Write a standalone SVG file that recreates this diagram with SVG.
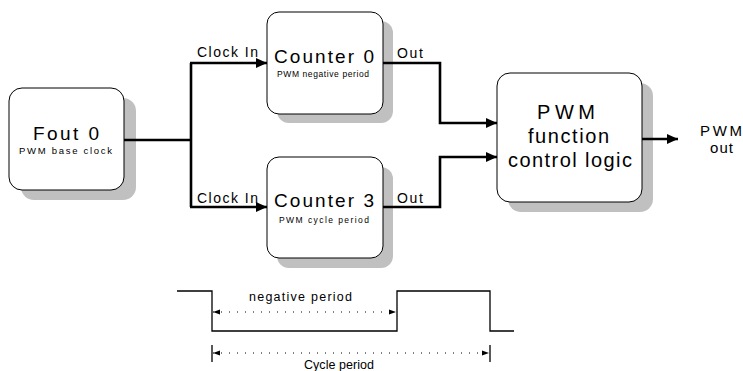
<svg xmlns="http://www.w3.org/2000/svg" width="743" height="371" viewBox="0 0 743 371">
<defs>
<style>
.box{fill:#fff;stroke:#000;stroke-width:1}
.sh{fill:#c0c0c0;stroke:none}
.t{font-family:"Liberation Sans",Arial,sans-serif;fill:#000}
.big{font-size:19px}
.mid{font-size:14px}
.sm{font-size:8.5px}
.wire{fill:none;stroke:#000;stroke-width:2.6;stroke-linejoin:miter}
.wave{fill:none;stroke:#000;stroke-width:1.3}
.dot{fill:none;stroke:#000;stroke-width:1;stroke-dasharray:1 7}
</style>
<marker id="arr" markerUnits="userSpaceOnUse" markerWidth="12" markerHeight="12" viewBox="0 0 12 12" refX="11" refY="6" orient="auto">
<path d="M0,1 L11,6 L0,11 Z" fill="#000"/>
</marker>
<marker id="sarr" markerUnits="userSpaceOnUse" markerWidth="8" markerHeight="6" viewBox="0 0 8 6" refX="7" refY="3" orient="auto-start-reverse">
<path d="M0,0.5 L7,3 L0,5.5 Z" fill="#000"/>
</marker>
</defs>
<rect width="743" height="371" fill="#fff"/>

<g id="fout0">
<rect class="sh" x="21" y="98" width="115" height="102" rx="13"/>
<rect class="box" x="9" y="88" width="115" height="102" rx="13"/>
<text class="t big" x="33" y="140" textLength="66" lengthAdjust="spacing">Fout 0</text>
<text class="t" font-size="9.5" x="19" y="154" textLength="93" lengthAdjust="spacing">PWM base clock</text>
</g>

<g id="counter0">
<rect class="sh" x="277" y="21" width="116" height="102" rx="12"/>
<rect class="box" x="267" y="12" width="116" height="102" rx="12"/>
<text class="t big" x="274" y="63" textLength="100" lengthAdjust="spacing">Counter 0</text>
<text class="t sm" x="277" y="77" textLength="92" lengthAdjust="spacing">PWM negative period</text>
</g>

<g id="counter3">
<rect class="sh" x="277" y="167" width="116" height="101" rx="12"/>
<rect class="box" x="267" y="157" width="116" height="101" rx="12"/>
<text class="t big" x="274" y="207" textLength="100" lengthAdjust="spacing">Counter 3</text>
<text class="t sm" x="279" y="223" textLength="90" lengthAdjust="spacing">PWM cycle period</text>
</g>

<g id="pwmlogic">
<rect class="sh" x="508" y="83" width="145" height="129" rx="13"/>
<rect class="box" x="497" y="73" width="145" height="129" rx="13"/>
<text class="t" font-size="20" x="537" y="119" textLength="58" lengthAdjust="spacing">PWM</text>
<text class="t" font-size="20" x="528" y="143" textLength="81" lengthAdjust="spacing">function</text>
<text class="t" font-size="20" x="508" y="167" textLength="124" lengthAdjust="spacing">control logic</text>
</g>

<g id="pwmout">
<text class="t" font-size="15" x="700" y="136" textLength="42" lengthAdjust="spacing">PWM</text>
<text class="t" font-size="15" x="710" y="153" textLength="23" lengthAdjust="spacing">out</text>
</g>

<g id="connectors">
<path class="wire" d="M124,140 H191"/>
<path class="wire" d="M191,63 V207"/>
<path class="wire" d="M190,63 H267" marker-end="url(#arr)"/>
<path class="wire" d="M190,207 H267" marker-end="url(#arr)"/>
<path class="wire" d="M383,63 H440 V123 H497" marker-end="url(#arr)"/>
<path class="wire" d="M383,207 H440 V157 H497" marker-end="url(#arr)"/>
<path class="wire" d="M642,139 H678" marker-end="url(#arr)"/>
<text class="t mid" x="197" y="57" textLength="61" lengthAdjust="spacing">Clock In</text>
<text class="t mid" x="197" y="203" textLength="61" lengthAdjust="spacing">Clock In</text>
<text class="t mid" x="397" y="58" textLength="26" lengthAdjust="spacing">Out</text>
<text class="t mid" x="397" y="203" textLength="26" lengthAdjust="spacing">Out</text>
</g>

<g id="timing">
<path class="wave" d="M177,291 H212 V331 H397 V291 H490 V331 H514"/>
<path class="dot" d="M213,312 H396" marker-start="url(#sarr)" marker-end="url(#sarr)"/>
<text class="t" font-size="12.5" x="249" y="301" textLength="103" lengthAdjust="spacing">negative period</text>
<path class="wave" d="M212,345 V362 M490,345 V362"/>
<path class="dot" d="M213,353 H489" marker-start="url(#sarr)" marker-end="url(#sarr)"/>
<text class="t" font-size="12.5" x="304" y="369" textLength="70" lengthAdjust="spacing">Cycle period</text>
</g>
</svg>
